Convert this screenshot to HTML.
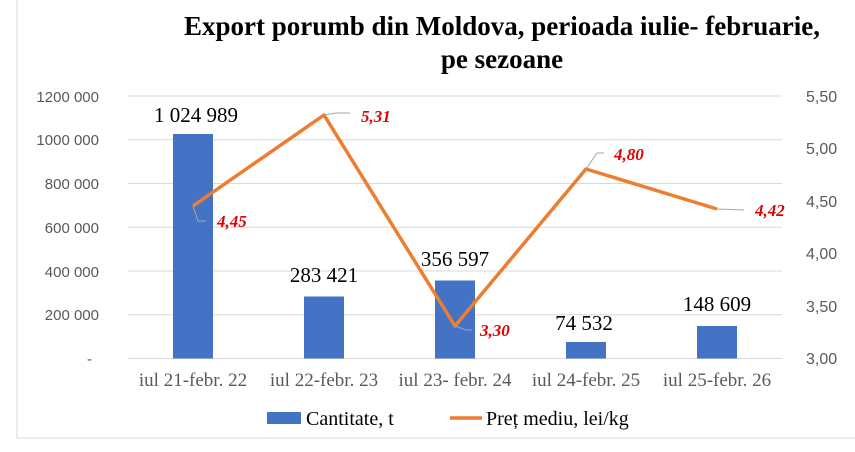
<!DOCTYPE html>
<html><head><meta charset="utf-8"><style>
body{margin:0;background:#fff;}
svg{display:block;}
</style></head><body>
<svg width="855" height="452" xmlns="http://www.w3.org/2000/svg">
<rect width="855" height="452" fill="#fff"/>
<line x1="17" y1="0" x2="17" y2="438" stroke="#d9d9d9"/>
<line x1="17" y1="438" x2="855" y2="438" stroke="#d9d9d9"/>
<text x="502" y="35" font-family="Liberation Serif" font-weight="bold" font-size="27" text-anchor="middle">Export porumb din Moldova, perioada iulie- februarie,</text>
<text x="502" y="68" font-family="Liberation Serif" font-weight="bold" font-size="27" text-anchor="middle">pe sezoane</text>
<g stroke="#d9d9d9" stroke-width="1">
<line x1="128" y1="96" x2="782" y2="96"/>
<line x1="128" y1="139.75" x2="782" y2="139.75"/>
<line x1="128" y1="183.5" x2="782" y2="183.5"/>
<line x1="128" y1="227.25" x2="782" y2="227.25"/>
<line x1="128" y1="271" x2="782" y2="271"/>
<line x1="128" y1="314.75" x2="782" y2="314.75"/>
<line x1="128" y1="358.5" x2="782" y2="358.5"/>
</g>
<g font-family="Liberation Sans" font-size="15" fill="#595959" text-anchor="end">
<text x="99" y="102">1200 000</text>
<text x="99" y="145">1000 000</text>
<text x="99" y="189">800 000</text>
<text x="99" y="233">600 000</text>
<text x="99" y="277">400 000</text>
<text x="99" y="320">200 000</text>
<text x="92" y="364">-</text>
</g>
<g font-family="Liberation Sans" font-size="16" fill="#595959">
<text x="806" y="102">5,50</text>
<text x="806" y="154">5,00</text>
<text x="806" y="207">4,50</text>
<text x="806" y="259">4,00</text>
<text x="806" y="312">3,50</text>
<text x="806" y="364">3,00</text>
</g>
<g fill="#4472c4">
<rect x="173" y="134" width="40" height="224.5"/>
<rect x="304" y="296.5" width="40" height="62"/>
<rect x="435" y="280.5" width="40" height="78"/>
<rect x="566" y="342" width="40" height="16.5"/>
<rect x="697" y="326" width="40" height="32.5"/>
</g>
<g font-family="Liberation Serif" font-size="21" fill="#000" text-anchor="middle">
<text x="196" y="122">1 024 989</text>
<text x="324" y="282">283 421</text>
<text x="455" y="266">356 597</text>
<text x="584" y="330">74 532</text>
<text x="717" y="311">148 609</text>
</g>
<polyline points="193,206 324,115 455,326 586,169 717,209" fill="none" stroke="#ed7d31" stroke-width="3.5" stroke-linejoin="round"/>
<g stroke="#a6a6a6" fill="none" stroke-width="1">
<polyline points="193,206 198,221 206,221"/>
<polyline points="324,115 336,113 350,113"/>
<polyline points="455,326 466,330 472,330"/>
<polyline points="586,169 597,153 604,153"/>
<polyline points="717,209 744,210"/>
</g>
<g font-family="Liberation Serif" font-size="17" font-weight="bold" font-style="italic" fill="#e00000">
<text x="217" y="227">4,45</text>
<text x="361" y="122">5,31</text>
<text x="480" y="336">3,30</text>
<text x="614" y="160">4,80</text>
<text x="755" y="216">4,42</text>
</g>
<g font-family="Liberation Serif" font-size="19" fill="#595959" text-anchor="middle">
<text x="193" y="386">iul 21-febr. 22</text>
<text x="324" y="386">iul 22-febr. 23</text>
<text x="455" y="386">iul 23- febr. 24</text>
<text x="586" y="386">iul 24-febr. 25</text>
<text x="717" y="386">iul 25-febr. 26</text>
</g>
<rect x="267" y="412" width="34" height="12" fill="#4472c4"/>
<text x="306" y="425" font-family="Liberation Serif" font-size="20" fill="#000">Cantitate, t</text>
<line x1="450" y1="418" x2="482" y2="418" stroke="#ed7d31" stroke-width="3.5"/>
<text x="486" y="425" font-family="Liberation Serif" font-size="20" fill="#000">Preț mediu, lei/kg</text>
</svg>
</body></html>
